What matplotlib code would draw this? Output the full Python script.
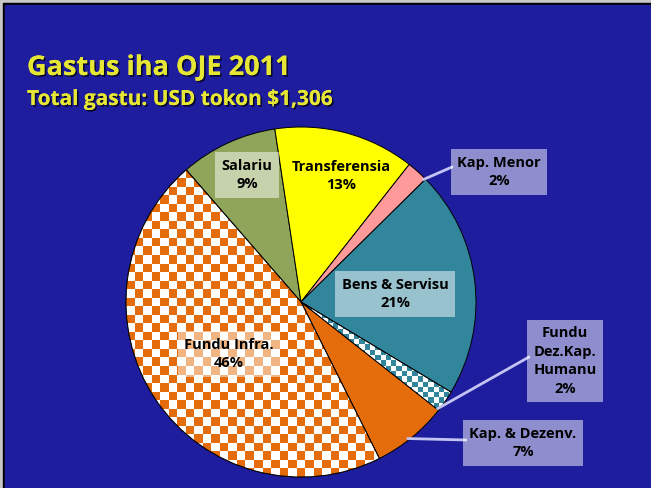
import numpy as np
import matplotlib
matplotlib.use('Agg')
from matplotlib import pyplot as plt
import matplotlib.patches as mpatches
import matplotlib.patheffects as pe
from matplotlib.colors import ListedColormap

# data
categories = ['Salariu', 'Transferensia', 'Kap. Menor', 'Bens & Servisu',
              'Fundu\nDez.Kap.\nHumanu', 'Kap. & Dezenv.', 'Fundu Infra.']
shares = [9, 13, 2, 21, 2, 7, 46]
title = 'Gastus iha OJE 2011'
subtitle = 'Total gastu: USD tokon $1,306'

# styles
colors = ['#8ea55a', '#ffff00', '#ff9a9a', '#31869b', '#31869b', '#e46c0a', '#e46c0a']
# checker squares across the pie diameter (0 = plain fill)
checker_n = [0, 0, 0, 0, 66, 0, 41]
label_boxed = [True, False, True, True, True, True, True]
# label centres in pixel coords (x from left, y from top)
label_pos = [(247, 175), (341, 176), (499, 172), (395, 294),
             (565, 361), (523, 443), (229, 354)]
# leader lines: start angle on the rim (deg) and end point (pixel coords)
leader_start = [None, None, 45, None, -38, -52, None]
leader_end = [None, None, (452, 167), None, (529, 357), (466, 440), None]

W, H = 651, 488
bg = '#1d1d9e'
cx, cy, R = 301, H - 302, 175

fig = plt.figure(figsize=(W / 100, H / 100), dpi=100, facecolor='#c8c8c8')
ax = fig.add_axes([0, 0, 1, 1])

# frame: black line on left/top, then blue slide
ax.add_patch(mpatches.Rectangle((3, 0), W, H - 3, color='black', zorder=0))
ax.add_patch(mpatches.Rectangle((5, 0), W, H - 5, color=bg, zorder=0))

wedges, _ = ax.pie(shares, colors=colors, startangle=131, counterclock=False,
                   center=(cx, cy), radius=R, frame=True,
                   wedgeprops=dict(edgecolor='black', linewidth=0.7))

# checkerboard fill for two slices
for w, nsq, col in zip(wedges, checker_n, colors):
    w.set_zorder(2)
    if nsq:
        ii, jj = np.indices((nsq, nsq))
        board = (ii + jj) % 2
        im = ax.imshow(board, cmap=ListedColormap([col, 'white']),
                       extent=(cx - R, cx + R, cy - R, cy + R),
                       interpolation='nearest', zorder=2.5)
        im.set_clip_path(w)
        edge = mpatches.Wedge(w.center, w.r, w.theta1, w.theta2, facecolor='none',
                              edgecolor='black', linewidth=0.7, zorder=3)
        ax.add_patch(edge)

ax.set_xlim(0, W)
ax.set_ylim(0, H)
ax.set_aspect('equal', adjustable='box')
ax.axis('off')

# labels
for cat, val, pos, boxed, lang, lend in zip(categories, shares, label_pos,
                                            label_boxed, leader_start, leader_end):
    x, y = pos[0], H - pos[1]
    bbox = dict(boxstyle='square,pad=0.45', facecolor='white', alpha=0.5,
                edgecolor='none') if boxed else None
    ax.text(x, y, f'{cat}\n{val}%', ha='center', va='center', fontsize=10.5,
            fontweight='bold', family='Open Sans', color='black',
            linespacing=1.4, bbox=bbox, zorder=5)
    if lend is not None:
        a = np.radians(lang)
        sx, sy = cx + R * 0.99 * np.cos(a), cy + R * 0.99 * np.sin(a)
        ax.plot([sx, lend[0]], [sy, H - lend[1]], color='#c4c4f2', lw=2,
                solid_capstyle='round', zorder=4)

shadow = [pe.withSimplePatchShadow(offset=(1.2, -1.2), shadow_rgbFace='black', alpha=0.7),
          pe.Normal()]
ax.text(27, H - 75, title, fontsize=19.5, fontweight='bold', family='Open Sans',
        color='#e6e634', ha='left', va='baseline', path_effects=shadow, zorder=6)
ax.text(27, H - 105, subtitle, fontsize=15, fontweight='bold', family='Open Sans',
        color='#e6e634', ha='left', va='baseline', path_effects=shadow, zorder=6)

fig.savefig('out.png', dpi=100, facecolor=fig.get_facecolor())
